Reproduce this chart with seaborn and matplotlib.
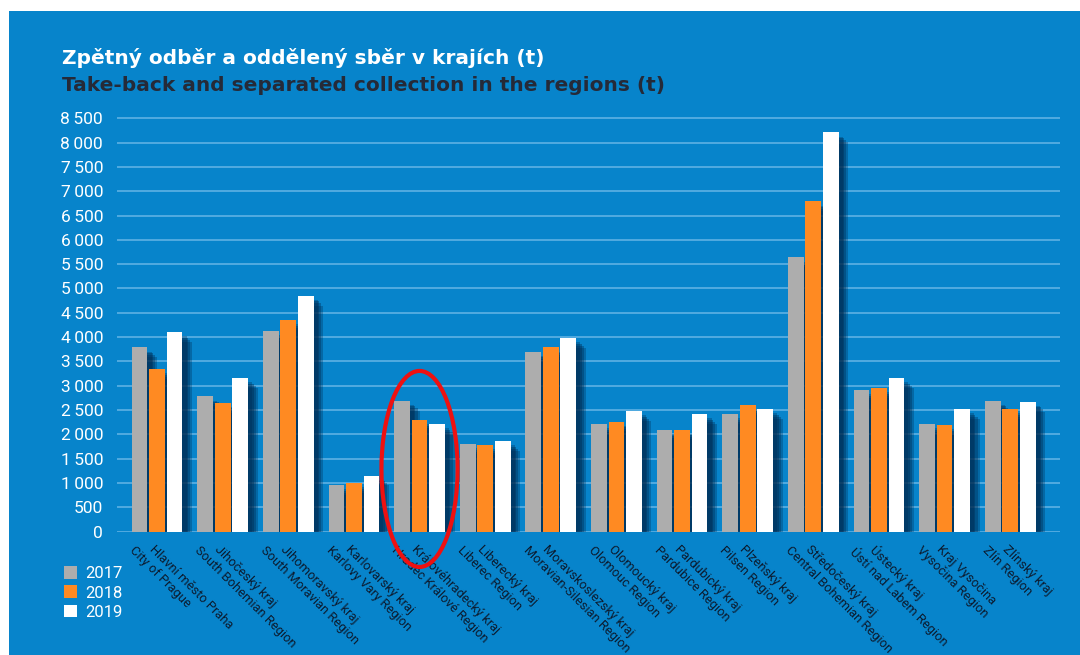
import pandas as pd
import seaborn as sns
import matplotlib.pyplot as plt
import matplotlib.patheffects as pe
from matplotlib.patches import Ellipse, Rectangle
from matplotlib.ticker import FuncFormatter, MultipleLocator

regions_cz = ["Hlavní město Praha", "Jihočeský kraj", "Jihomoravský kraj", "Karlovarský kraj",
              "Královéhradecký kraj", "Liberecký kraj", "Moravskoslezský kraj", "Olomoucký kraj",
              "Pardubický kraj", "Plzeňský kraj", "Středočeský kraj", "Ústecký kraj",
              "Kraj Vysočina", "Zlínský kraj"]
regions_en = ["City of Prague", "South Bohemian Region", "South Moravian Region", "Karlovy Vary Region",
              "Hradec Králové Region", "Liberec Region", "Moravian-Silesian Region", "Olomouc Region",
              "Pardubice Region", "Pilsen Region", "Central Bohemian Region", "Ústí nad Labem Region",
              "Vysočina Region", "Zlín Region"]
years = ["2017", "2018", "2019"]
t2017 = [3790, 2780, 4130, 960, 2690, 1800, 3700, 2210, 2090, 2420, 5640, 2910, 2210, 2690]
t2018 = [3340, 2650, 4350, 1000, 2290, 1780, 3790, 2260, 2100, 2600, 6790, 2950, 2190, 2520]
t2019 = [4100, 3160, 4850, 1150, 2210, 1860, 3980, 2480, 2420, 2520, 8210, 3160, 2520, 2670]

BG = "#0784cb"
colors = {"2017": "#adadad", "2018": "#ff8a22", "2019": "#ffffff"}

df = pd.DataFrame({
    "region": regions_en * 3,
    "year": [y for y in years for _ in regions_en],
    "t": t2017 + t2018 + t2019,
})

W, H = 1080, 655
fig = plt.figure(figsize=(W / 100, H / 100), dpi=100)
fig.patch.set_facecolor("white")
fig.patches.append(Rectangle((9 / W, 0), 1, 1 - 11 / H, transform=fig.transFigure,
                             facecolor=BG, edgecolor="none", zorder=-5))

# axes box in pixels: x 117..1060, y 0-line at 531.7
ax = fig.add_axes([117 / W, (H - 531.7) / H, (1060 - 117) / W, 415.9 / H])
ax.set_facecolor("none")

sns.barplot(data=df, x="region", y="t", hue="year", palette=colors, width=0.8, gap=0.1,
            saturation=1, ax=ax, legend=False, zorder=3)

# soft drop shadow to the lower right
shadow = [pe.SimplePatchShadow(offset=(d, -d), shadow_rgbFace="#002a50", alpha=a)
          for d, a in [(7, 0.3), (5.5, 0.35), (4, 0.4), (3, 0.3)]]
for cont in ax.containers:
    for bar in cont:
        bar.set_path_effects(shadow + [pe.Normal()])

ax.set_ylim(0, 8550)
ax.set_xlim(-0.61, 13.76)
ax.yaxis.set_major_locator(MultipleLocator(500))
ax.yaxis.set_major_formatter(FuncFormatter(lambda v, p: f"{int(v):,}".replace(",", "\u2009")))
ax.grid(axis="y", color="#66b5e6", linewidth=1.1, zorder=0)
ax.set_axisbelow(True)
for s in ax.spines.values():
    s.set_visible(False)
ax.tick_params(axis="y", length=0, pad=10, labelcolor="white", labelsize=12.5)
ax.tick_params(axis="x", length=0, labelbottom=False)
for lbl in ax.get_yticklabels():
    lbl.set_fontfamily(["Roboto", "DejaVu Sans"])
ax.set_xlabel("")
ax.set_ylabel("")

# two-line rotated category labels
lab_font = ["Roboto", "DejaVu Sans"]
for i, (cz, en) in enumerate(zip(regions_cz, regions_en)):
    ax.text(i - 0.02, -0.026, cz, transform=ax.get_xaxis_transform(), rotation=-45,
            rotation_mode="anchor", ha="left", va="top", fontsize=9.3, color="#0c1c30",
            family=lab_font)
    ax.text(i - 0.32, -0.030, en, transform=ax.get_xaxis_transform(), rotation=-45,
            rotation_mode="anchor", ha="left", va="top", fontsize=9.3, color="#0c1c30",
            family=lab_font)

# highlight ellipse around Hradec Králové
ax.add_patch(Ellipse((4, 1290), 1.16, 4030, fill=False, edgecolor="#ee1111", linewidth=3.0,
                     clip_on=False, zorder=10))

# legend
handles = [Rectangle((0, 0), 1, 1, facecolor=colors[y], edgecolor="none") for y in years]
fig.legend(handles, years, loc="upper left", bbox_to_anchor=(49 / W, 1 - 551 / H),
           frameon=False, labelcolor="white", handlelength=0.8, handleheight=0.8,
           handletextpad=0.5, labelspacing=0.25, prop={"family": ["Roboto", "DejaVu Sans"], "size": 12})

title_font = ["DejaVu Sans"]
fig.text(62 / W, 1 - 64 / H, "Zpětný odběr a oddělený sběr v krajích (t)", color="white",
         fontsize=14.5, fontweight="bold", family=title_font, va="baseline")
fig.text(62 / W, 1 - 91 / H, "Take-back and separated collection in the regions (t)", color="#252a38",
         fontsize=14.5, fontweight="bold", family=title_font, va="baseline")

fig.savefig("out.png", dpi=100, facecolor=fig.get_facecolor())
